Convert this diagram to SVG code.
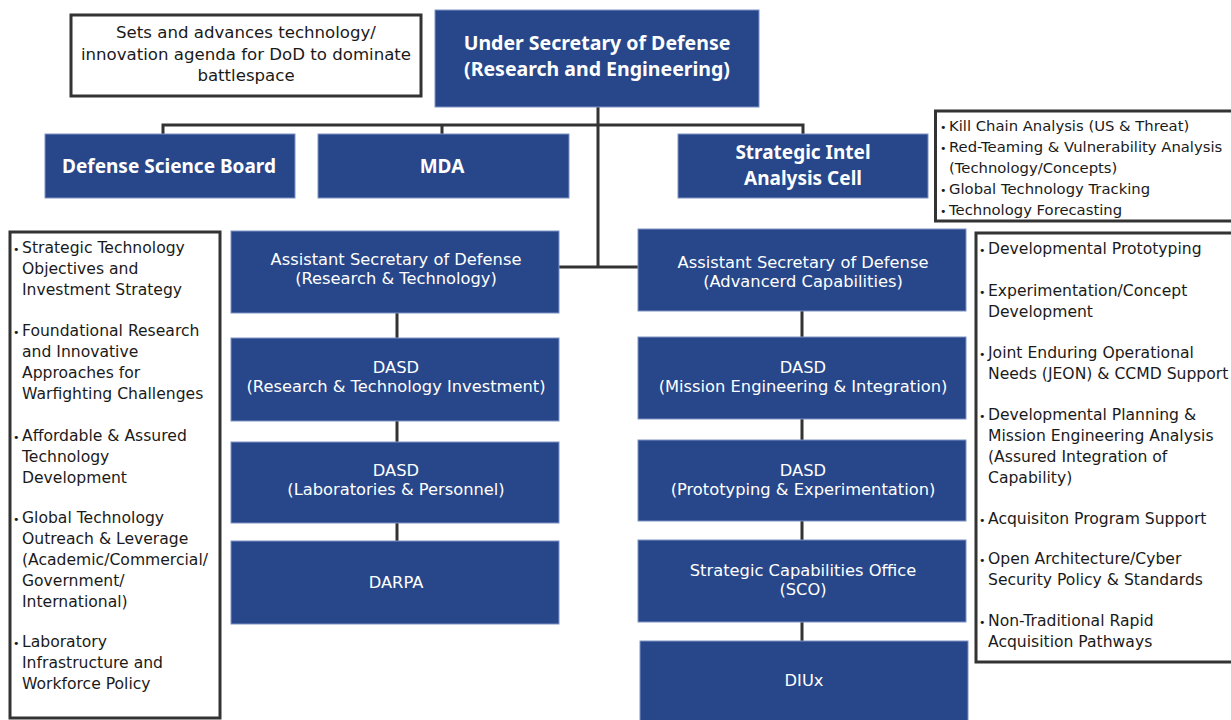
<svg xmlns="http://www.w3.org/2000/svg" width="1231" height="720" viewBox="0 0 1231 720">
<style>
.bx{fill:#27478a;stroke:#7e93c4;stroke-width:1}
.ob{fill:#fff;stroke:#333;stroke-width:3}
.ln{stroke:#333;stroke-width:3;fill:none}
.t{font-family:"DejaVu Sans","Noto Sans",sans-serif;font-size:16.3px;fill:#fff;text-anchor:middle}
.tb{font-family:"Noto Sans","Open Sans",sans-serif;font-size:19px;font-weight:bold;fill:#fff;text-anchor:middle}
.tbl{font-size:19.5px}
.k{font-family:"DejaVu Sans","Noto Sans",sans-serif;font-size:15.6px;fill:#1a1a1a}
.ks{font-family:"DejaVu Sans","Noto Sans",sans-serif;font-size:14.8px;fill:#1a1a1a}
.kc{font-family:"DejaVu Sans","Noto Sans",sans-serif;font-size:16.6px;fill:#1a1a1a;text-anchor:middle}
.bu{font-size:11px}
</style>
<rect width="1231" height="720" fill="#fff"/>
<g id="connectors">
<path class="ln" d="M598 107V267M163 134V125H803V134M442 125V134M559 267H638"/>
<path class="ln" d="M397 313V338M397 421V442M397 523V541"/>
<path class="ln" d="M802 311V337M802 419V440M802 521V540M802 622V641"/>
</g>
<g id="mission">
<rect class="ob" x="71" y="15" width="350" height="81"/>
<text class="kc"><tspan x="246" y="38">Sets and advances technology/</tspan><tspan x="246" y="60">innovation agenda for DoD to dominate</tspan><tspan x="246" y="81">battlespace</tspan></text>
</g>
<g id="usd">
<rect class="bx" x="435" y="10" width="324" height="97"/>
<text class="tb tbl"><tspan x="597" y="50">Under Secretary of Defense</tspan><tspan x="597" y="76">(Research and Engineering)</tspan></text>
</g>
<g id="dsb">
<rect class="bx" x="45" y="134" width="250" height="64"/>
<text class="tb" x="169" y="173">Defense Science Board</text>
</g>
<g id="mda">
<rect class="bx" x="318" y="134" width="251" height="64"/>
<text class="tb" x="442" y="173">MDA</text>
</g>
<g id="siac">
<rect class="bx" x="678" y="134" width="250" height="64"/>
<text class="tb"><tspan x="803" y="159">Strategic Intel</tspan><tspan x="803" y="185">Analysis Cell</tspan></text>
</g>
<g id="siac-notes">
<rect class="ob" x="935.5" y="111" width="300" height="110"/>
<g class="ks">
<text x="940" y="131"><tspan class="bu">•</tspan><tspan x="949">Kill Chain Analysis (US &amp; Threat)</tspan></text>
<text x="940" y="152"><tspan class="bu">•</tspan><tspan x="949">Red-Teaming &amp; Vulnerability Analysis</tspan></text>
<text x="949" y="173">(Technology/Concepts)</text>
<text x="940" y="194"><tspan class="bu">•</tspan><tspan x="949">Global Technology Tracking</tspan></text>
<text x="940" y="215"><tspan class="bu">•</tspan><tspan x="949">Technology Forecasting</tspan></text>
</g>
</g>
<g id="left-notes">
<rect class="ob" x="10" y="232" width="210" height="486"/>
<g class="k">
<text x="13" y="253"><tspan class="bu">•</tspan><tspan x="22">Strategic Technology</tspan></text>
<text x="22" y="274">Objectives and</text>
<text x="22" y="295">Investment Strategy</text>
<text x="13" y="336"><tspan class="bu">•</tspan><tspan x="22">Foundational Research</tspan></text>
<text x="22" y="357">and Innovative</text>
<text x="22" y="378">Approaches for</text>
<text x="22" y="399">Warfighting Challenges</text>
<text x="13" y="441"><tspan class="bu">•</tspan><tspan x="22">Affordable &amp; Assured</tspan></text>
<text x="22" y="462">Technology</text>
<text x="22" y="483">Development</text>
<text x="13" y="523"><tspan class="bu">•</tspan><tspan x="22">Global Technology</tspan></text>
<text x="22" y="544">Outreach &amp; Leverage</text>
<text x="22" y="565">(Academic/Commercial/</text>
<text x="22" y="586">Government/</text>
<text x="22" y="607">International)</text>
<text x="13" y="647"><tspan class="bu">•</tspan><tspan x="22">Laboratory</tspan></text>
<text x="22" y="668">Infrastructure and</text>
<text x="22" y="689">Workforce Policy</text>
</g>
</g>
<g id="right-notes">
<rect class="ob" x="976" y="233" width="260" height="429"/>
<g class="k">
<text x="979" y="254"><tspan class="bu">•</tspan><tspan x="988">Developmental Prototyping</tspan></text>
<text x="979" y="296"><tspan class="bu">•</tspan><tspan x="988">Experimentation/Concept</tspan></text>
<text x="988" y="317">Development</text>
<text x="979" y="358"><tspan class="bu">•</tspan><tspan x="988">Joint Enduring Operational</tspan></text>
<text x="988" y="379">Needs (JEON) &amp; CCMD Support</text>
<text x="979" y="420"><tspan class="bu">•</tspan><tspan x="988">Developmental Planning &amp;</tspan></text>
<text x="988" y="441">Mission Engineering Analysis</text>
<text x="988" y="462">(Assured Integration of</text>
<text x="988" y="483">Capability)</text>
<text x="979" y="524"><tspan class="bu">•</tspan><tspan x="988">Acquisiton Program Support</tspan></text>
<text x="979" y="564"><tspan class="bu">•</tspan><tspan x="988">Open Architecture/Cyber</tspan></text>
<text x="988" y="585">Security Policy &amp; Standards</text>
<text x="979" y="626"><tspan class="bu">•</tspan><tspan x="988">Non-Traditional Rapid</tspan></text>
<text x="988" y="647">Acquisition Pathways</text>
</g>
</g>
<g id="asd-rt">
<rect class="bx" x="231" y="231" width="328" height="82"/>
<text class="t"><tspan x="396" y="265">Assistant Secretary of Defense</tspan><tspan x="396" y="284">(Research &amp; Technology)</tspan></text>
</g>
<g id="dasd-rti">
<rect class="bx" x="231" y="338" width="328" height="83"/>
<text class="t"><tspan x="396" y="373">DASD</tspan><tspan x="396" y="392">(Research &amp; Technology Investment)</tspan></text>
</g>
<g id="dasd-lp">
<rect class="bx" x="231" y="442" width="328" height="81"/>
<text class="t"><tspan x="396" y="476">DASD</tspan><tspan x="396" y="495">(Laboratories &amp; Personnel)</tspan></text>
</g>
<g id="darpa">
<rect class="bx" x="231" y="541" width="328" height="83"/>
<text class="t" x="396" y="588">DARPA</text>
</g>
<g id="asd-ac">
<rect class="bx" x="638" y="229" width="328" height="82"/>
<text class="t"><tspan x="803" y="268">Assistant Secretary of Defense</tspan><tspan x="803" y="287">(Advancerd Capabilities)</tspan></text>
</g>
<g id="dasd-mei">
<rect class="bx" x="638" y="337" width="328" height="82"/>
<text class="t"><tspan x="803" y="373">DASD</tspan><tspan x="803" y="392">(Mission Engineering &amp; Integration)</tspan></text>
</g>
<g id="dasd-pe">
<rect class="bx" x="638" y="440" width="328" height="81"/>
<text class="t"><tspan x="803" y="476">DASD</tspan><tspan x="803" y="495">(Prototyping &amp; Experimentation)</tspan></text>
</g>
<g id="sco">
<rect class="bx" x="638" y="540" width="328" height="82"/>
<text class="t"><tspan x="803" y="576">Strategic Capabilities Office</tspan><tspan x="803" y="595">(SCO)</tspan></text>
</g>
<g id="diux">
<rect class="bx" x="640" y="641" width="328" height="85"/>
<text class="t" x="804" y="686">DIUx</text>
</g>
</svg>
